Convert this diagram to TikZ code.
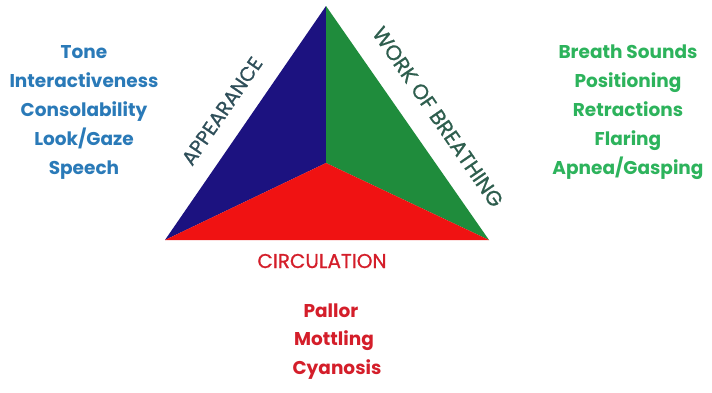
\documentclass[tikz,border=0pt]{standalone}
\usepackage{fontspec}
\setmainfont{Poppins}
\newfontfamily\lblfont{Poppins}[FakeBold=0.8]
\definecolor{triblue}{HTML}{1C1280}
\definecolor{trigreen}{HTML}{1F8C3C}
\definecolor{trired}{HTML}{F01212}
\definecolor{txtblue}{HTML}{2A7AB8}
\definecolor{txtgreen}{HTML}{2DB35C}
\definecolor{txtred}{HTML}{D41E2A}
\definecolor{lblslate}{HTML}{2F4F5A}
\definecolor{lblgreen}{HTML}{2E5E4E}
\tikzset{
  item/.style={font=\fontsize{18.5}{18.5}\selectfont\bfseries, inner sep=0pt, anchor=base},
  side/.style={font=\fontsize{20}{20}\selectfont\lblfont, inner sep=0pt, anchor=center},
}
\begin{document}
\begin{tikzpicture}[x=1pt,y=-1pt]
\useasboundingbox (0,0) rectangle (712,392);
\fill[white] (0,0) rectangle (712,392);
\coordinate (A) at (326,6);
\coordinate (L) at (165,240);
\coordinate (R) at (489,240);
\coordinate (C) at (326,163);
\fill[triblue] (A) -- (L) -- (C) -- cycle;
\fill[trigreen] (A) -- (C) -- (R) -- cycle;
\fill[trired] (L) -- (C) -- (R) -- cycle;
\node[side, text=lblslate, rotate=55.5] (app) at (222,111) {APPEARANCE};
\node[side, text=lblgreen, rotate=-55.5, font=\fontsize{21}{21}\selectfont\lblfont] (wob) at (438,117) {WORK OF BREATHING};
\node[side, text=txtred, anchor=base] (circ) at (322,268) {CIRCULATION};
% left list
\node[item, text=txtblue] (l1) at (84,58) {Tone};
\node[item, text=txtblue] (l2) at (84,87) {Interactiveness};
\node[item, text=txtblue] (l3) at (84,116) {Consolability};
\node[item, text=txtblue] (l4) at (84,145) {Look/Gaze};
\node[item, text=txtblue] (l5) at (84,174) {Speech};
% right list
\node[item, text=txtgreen] (r1) at (628,58) {Breath Sounds};
\node[item, text=txtgreen] (r2) at (628,87) {Positioning};
\node[item, text=txtgreen] (r3) at (628,116) {Retractions};
\node[item, text=txtgreen] (r4) at (628,145) {Flaring};
\node[item, text=txtgreen] (r5) at (628,174) {Apnea/Gasping};
% bottom list
\node[item, text=txtred] (b1) at (331,317) {Pallor};
\node[item, text=txtred] (b2) at (334,345) {Mottling};
\node[item, text=txtred] (b3) at (337,374) {Cyanosis};
\end{tikzpicture}
\end{document}
